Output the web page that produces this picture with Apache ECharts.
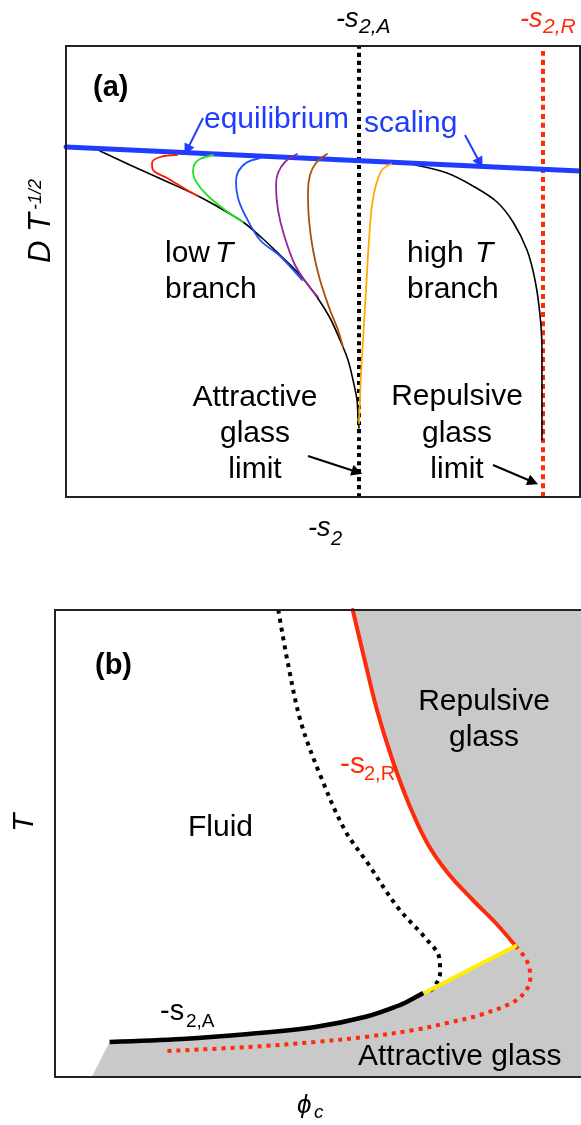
<!DOCTYPE html>
<html>
<head>
<meta charset="utf-8">
<script src="https://cdn.jsdelivr.net/npm/echarts@6/dist/echarts.min.js"></script>
<style>
  html, body { margin: 0; padding: 0; background: #fff; }
  #chart { width: 581px; height: 1125px; }
</style>
</head>
<body>
<div id="chart"></div>
<script>
// ---------- Panel (a): D T^-1/2 versus -s2 (schematic units) ----------
const equilibriumScaling = [[0, 350], [514, 326]];
const attractiveLimit = [[293, 0], [293, 451]];
const repulsiveLimit = [[477, 0], [477, 451]];

const lowTBranch = [[34, 346], [64, 332], [104, 314], [132, 301], [154, 289], [177, 275],
  [196, 259], [214, 242], [234, 222], [251, 200], [264, 179], [274, 157], [282, 137],
  [287, 117], [291, 97], [292, 80], [293, 69]];
const highTBranch = [[349, 332], [381, 324], [407, 311], [431, 295], [447, 275], [461, 247],
  [469, 217], [474, 182], [476, 147], [476, 107], [476, 57]];

const curveRed = [[111, 342], [94, 340], [86, 334], [87, 327], [101, 319], [121, 307], [132, 301]];
const curveGreen = [[147, 342], [134, 338], [128, 332], [127, 325], [131, 314], [141, 302], [159, 287], [177, 275]];
const curveBlue = [[194, 339], [180, 334], [172, 325], [170, 315], [172, 299], [179, 282], [194, 257], [214, 241], [236, 217]];
const curvePurple = [[231, 343], [219, 335], [212, 324], [210, 312], [212, 287], [218, 262], [229, 232], [242, 212], [252, 200]];
const curveBrown = [[261, 343], [250, 334], [244, 322], [242, 305], [243, 277], [247, 247], [254, 217], [264, 187], [272, 167], [277, 150]];
const curveOrange = [[325, 333], [316, 327], [310, 312], [306, 292], [303, 257], [300, 207], [297, 157], [295, 122], [294, 97], [293, 74]];

const scalingArrows = [[[137, 379], [121, 347]], [[399, 362], [414, 334]]];
const limitArrows = [[[242, 41], [291, 25]], [[427, 32], [467, 15]]];

// ---------- Panel (b): T versus phi_c (schematic units) ----------
const repulsiveBoundary = [[300, 467], [312, 417], [325, 365], [340, 317], [357, 272], [375, 234],
  [395, 205], [420, 178], [445, 153], [464, 131]];
const fluidDotted = [[225, 467], [235, 412], [248, 354], [268, 300], [292, 247], [315, 214],
  [345, 170], [375, 137], [387, 120], [388, 104], [382, 90], [375, 84]];
const attractiveBoundary = [[371, 84], [358, 77], [345, 71], [312, 60], [262, 50], [195, 43], [128, 38], [55, 35]];
const glassGlassLine = [[372, 84], [464, 131]];
const repulsiveDotted = [[464, 131], [475, 117], [479, 100], [475, 87], [462, 75], [428, 62],
  [395, 54], [362, 47], [312, 40], [262, 35], [195, 30], [112, 26]];
const glassRegion = [].concat(repulsiveBoundary, glassGlassLine.slice().reverse(), attractiveBoundary,
  [[37, 0], [540, 0], [540, 467]]);

const FONT = '"Liberation Sans", Arial, Helvetica, sans-serif';
const BLUE = '#1f3cff';
const RED = '#ff2a0a';

function curve(data, color, width, xi, extra) {
  return Object.assign({
    type: 'line', data, xAxisIndex: xi, yAxisIndex: xi,
    showSymbol: false, symbol: 'none', smooth: 0.35, animation: false, silent: true,
    lineStyle: { color, width, cap: 'round', join: 'round' }
  }, extra || {});
}
function dotted(data, color, width, dash, xi) {
  return {
    type: 'line', data, xAxisIndex: xi, yAxisIndex: xi,
    showSymbol: false, symbol: 'none', smooth: 0.35, animation: false, silent: true,
    lineStyle: { color, width, type: dash, cap: 'butt' }
  };
}
function arrows(list, color) {
  return {
    type: 'lines', coordinateSystem: 'cartesian2d', xAxisIndex: 0, yAxisIndex: 0,
    symbol: ['none', 'triangle'], symbolSize: 11, animation: false, silent: true, z: 6,
    lineStyle: { color, width: 2, opacity: 1, curveness: 0 },
    data: list.map(c => ({ coords: c }))
  };
}

// text placed by its baseline
function txt(x, baseline, text, size, o) {
  o = o || {};
  const font = (o.italic ? 'italic ' : '') + (o.bold ? 'bold ' : '') + size + 'px ' + FONT;
  return {
    type: 'text', x, y: baseline - size * 0.27, z: 60,
    style: {
      text, font, fill: o.color || '#000',
      textAlign: o.align || 'left', align: o.align || 'left',
      textVerticalAlign: 'middle', verticalAlign: 'middle'
    }
  };
}

const chart = echarts.init(document.getElementById('chart'), null, { renderer: 'canvas' });

chart.setOption({
  animation: false,
  backgroundColor: '#fff',
  grid: [
    { left: 66, top: 46, width: 514, height: 451 },
    { left: 55, top: 610, width: 530, height: 467 }
  ],
  xAxis: [
    { gridIndex: 0, type: 'value', min: 0, max: 514, show: false },
    { gridIndex: 1, type: 'value', min: 0, max: 530, show: false }
  ],
  yAxis: [
    { gridIndex: 0, type: 'value', min: 0, max: 451, show: false },
    { gridIndex: 1, type: 'value', min: 0, max: 467, show: false }
  ],
  series: [
    // panel (a)
    dotted(attractiveLimit, '#000', 4, [4, 4], 0),
    dotted(repulsiveLimit, RED, 4, [5, 4], 0),
    curve(lowTBranch, '#000', 1.6, 0),
    curve(highTBranch, '#000', 1.6, 0),
    curve(equilibriumScaling, BLUE, 5, 0, { smooth: false, z: 3 }),
    curve(curveRed, '#ff1a00', 1.8, 0, { z: 4 }),
    curve(curveGreen, '#22e022', 1.8, 0, { z: 4 }),
    curve(curveBlue, '#1f4fff', 1.8, 0, { z: 4 }),
    curve(curvePurple, '#93289a', 1.8, 0, { z: 4 }),
    curve(curveBrown, '#a8500a', 1.8, 0, { z: 4 }),
    curve(curveOrange, '#ffaa00', 1.8, 0, { z: 4 }),
    arrows(scalingArrows, BLUE),
    arrows(limitArrows, '#000'),
    // panel (b)
    {
      type: 'custom', xAxisIndex: 1, yAxisIndex: 1, data: glassRegion, z: 1,
      animation: false, silent: true,
      renderItem: function (params, api) {
        if (params.dataIndex !== 0) return null;
        return {
          type: 'polygon',
          shape: { points: glassRegion.map(p => api.coord(p)) },
          style: { fill: '#c9c9c9' }
        };
      }
    },
    dotted(fluidDotted, '#000', 4, [4, 5], 1),
    dotted(repulsiveDotted, RED, 4, [4, 5], 1),
    curve(repulsiveBoundary, RED, 4, 1, { z: 3, smooth: 0.4 }),
    curve(glassGlassLine, '#ffee00', 4, 1, { smooth: false, z: 3 }),
    curve(attractiveBoundary, '#000', 4.5, 1, { z: 3, lineStyle: { color: '#000', width: 4.5, cap: 'butt', join: 'round' } })
  ],
  graphic: [
    // frames
    { type: 'rect', z: 100, shape: { x: 66, y: 46, width: 514, height: 451 },
      style: { fill: 'none', stroke: '#222', lineWidth: 2 } },
    { type: 'rect', z: 100, shape: { x: 55, y: 610, width: 530, height: 467 },
      style: { fill: 'none', stroke: '#222', lineWidth: 2 } },

    // panel (a) labels
    txt(336, 27, '-s', 27, { italic: true }),
    txt(359, 33, '2,A', 21, { italic: true }),
    txt(520, 27, '-s', 27, { italic: true, color: RED }),
    txt(543, 33, '2,R', 21, { italic: true, color: RED }),
    txt(93, 96, '(a)', 29, { bold: true }),
    txt(204, 128, 'equilibrium', 30, { color: BLUE }),
    txt(364, 132, 'scaling', 30, { color: BLUE }),
    txt(165, 262, 'low', 30),
    txt(215, 262, 'T', 30, { italic: true }),
    txt(165, 298, 'branch', 30),
    txt(407, 262, 'high', 30),
    txt(475, 262, 'T', 30, { italic: true }),
    txt(407, 298, 'branch', 30),
    txt(255, 406, 'Attractive', 30, { align: 'center' }),
    txt(255, 442, 'glass', 30, { align: 'center' }),
    txt(255, 478, 'limit', 30, { align: 'center' }),
    txt(457, 405, 'Repulsive', 30, { align: 'center' }),
    txt(457, 442, 'glass', 30, { align: 'center' }),
    txt(457, 478, 'limit', 30, { align: 'center' }),
    {
      type: 'group', x: 50, y: 263, rotation: Math.PI / 2,
      children: [
        txt(0, 0, 'D T', 31, { italic: true }),
        txt(53, -9, '-1/2', 18, { italic: true })
      ]
    },
    txt(308, 536, '-s', 27, { italic: true }),
    txt(331, 545, '2', 20, { italic: true }),

    // panel (b) labels
    txt(95, 674, '(b)', 29, { bold: true }),
    txt(484, 710, 'Repulsive', 30, { align: 'center' }),
    txt(484, 746, 'glass', 30, { align: 'center' }),
    txt(340, 773, '-s', 30, { color: RED }),
    txt(364, 780, '2,R', 20, { color: RED }),
    txt(188, 836, 'Fluid', 30),
    txt(160, 1020, '-s', 29),
    txt(186, 1027, '2,A', 19),
    txt(358, 1065, 'Attractive glass', 30),
    {
      type: 'group', x: 33, y: 832, rotation: Math.PI / 2,
      children: [ txt(0, 0, 'T', 30, { italic: true }) ]
    },
    txt(297, 1113, 'ϕ', 26, { italic: true }),
    txt(314, 1118, 'c', 19, { italic: true })
  ]
});
</script>
</body>
</html>
